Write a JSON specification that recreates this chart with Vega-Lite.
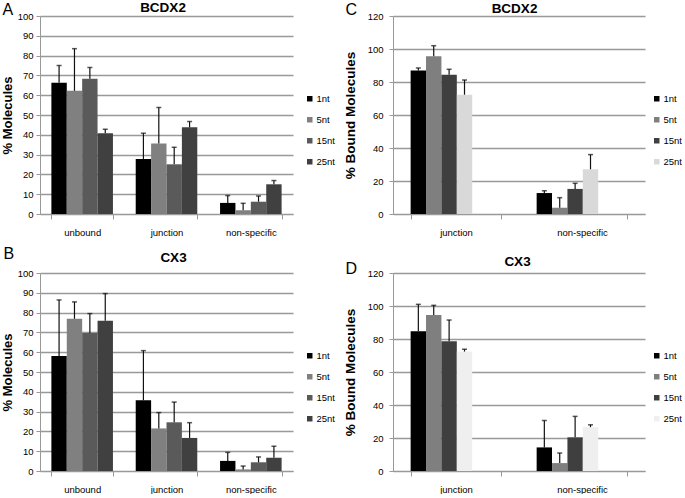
{
  "$schema": "https://vega.github.io/schema/vega-lite/v6.json",
  "padding": {"left": 1, "top": 0, "right": 0, "bottom": 0},
  "background": "white",
  "config": {
    "view": {"stroke": null},
    "font": "Liberation Sans",
    "axis": {
      "labelFont": "Liberation Sans",
      "labelColor": "#000",
      "domainColor": "#999",
      "tickColor": "#999",
      "titleColor": "#000"
    },
    "axisY": {
      "grid": true,
      "gridColor": "#999999",
      "gridWidth": 1.3,
      "tickSize": 4,
      "labelFontSize": 9.5,
      "titleFontWeight": "bold",
      "titleFont": "Liberation Sans"
    },
    "axisX": {
      "tickBand": "extent",
      "tickSize": 5,
      "labelPadding": 8,
      "labelAngle": 0,
      "grid": false,
      "labelFontSize": 9.5
    },
    "legend": {
      "labelFont": "Liberation Sans",
      "labelColor": "#000",
      "labelFontSize": 9.5,
      "symbolType": "square",
      "symbolSize": 30,
      "symbolStrokeWidth": 0,
      "rowPadding": 10,
      "labelOffset": 2
    }
  },
  "datasets": {
    "A": [
      {"cat": "unbound", "series": "1nt", "value": 66.3, "upper": 75.0},
      {"cat": "unbound", "series": "5nt", "value": 62.2, "upper": 83.5},
      {"cat": "unbound", "series": "15nt", "value": 68.3, "upper": 74.0},
      {"cat": "unbound", "series": "25nt", "value": 40.8, "upper": 42.8},
      {"cat": "junction", "series": "1nt", "value": 27.8, "upper": 40.8},
      {"cat": "junction", "series": "5nt", "value": 35.6, "upper": 53.8},
      {"cat": "junction", "series": "15nt", "value": 25.1, "upper": 33.7},
      {"cat": "junction", "series": "25nt", "value": 43.8, "upper": 46.7},
      {"cat": "non-specific", "series": "1nt", "value": 5.6, "upper": 9.3},
      {"cat": "non-specific", "series": "5nt", "value": 1.9, "upper": 5.4},
      {"cat": "non-specific", "series": "15nt", "value": 6.2, "upper": 9.1},
      {"cat": "non-specific", "series": "25nt", "value": 15.0, "upper": 16.9}
    ],
    "B": [
      {"cat": "unbound", "series": "1nt", "value": 58.1, "upper": 86.4},
      {"cat": "unbound", "series": "5nt", "value": 76.9, "upper": 85.4},
      {"cat": "unbound", "series": "15nt", "value": 69.7, "upper": 79.5},
      {"cat": "unbound", "series": "25nt", "value": 75.9, "upper": 89.6},
      {"cat": "junction", "series": "1nt", "value": 35.7, "upper": 60.8},
      {"cat": "junction", "series": "5nt", "value": 21.5, "upper": 29.5},
      {"cat": "junction", "series": "15nt", "value": 24.6, "upper": 34.8},
      {"cat": "junction", "series": "25nt", "value": 16.7, "upper": 24.4},
      {"cat": "non-specific", "series": "1nt", "value": 5.1, "upper": 9.4},
      {"cat": "non-specific", "series": "5nt", "value": 0.8, "upper": 2.5},
      {"cat": "non-specific", "series": "15nt", "value": 4.4, "upper": 7.1},
      {"cat": "non-specific", "series": "25nt", "value": 6.7, "upper": 12.5}
    ],
    "C": [
      {"cat": "junction", "series": "1nt", "value": 86.9, "upper": 88.5},
      {"cat": "junction", "series": "5nt", "value": 95.6, "upper": 102.0},
      {"cat": "junction", "series": "15nt", "value": 84.4, "upper": 87.7},
      {"cat": "junction", "series": "25nt", "value": 72.3, "upper": 81.2},
      {"cat": "non-specific", "series": "1nt", "value": 12.7, "upper": 14.1},
      {"cat": "non-specific", "series": "5nt", "value": 3.8, "upper": 9.9},
      {"cat": "non-specific", "series": "15nt", "value": 15.2, "upper": 18.6},
      {"cat": "non-specific", "series": "25nt", "value": 27.1, "upper": 36.0}
    ],
    "D": [
      {"cat": "junction", "series": "1nt", "value": 84.7, "upper": 101.0},
      {"cat": "junction", "series": "5nt", "value": 94.6, "upper": 100.4},
      {"cat": "junction", "series": "15nt", "value": 78.6, "upper": 91.5},
      {"cat": "junction", "series": "25nt", "value": 72.4, "upper": 73.8},
      {"cat": "non-specific", "series": "1nt", "value": 14.3, "upper": 30.6},
      {"cat": "non-specific", "series": "5nt", "value": 4.8, "upper": 10.9},
      {"cat": "non-specific", "series": "15nt", "value": 20.4, "upper": 33.1},
      {"cat": "non-specific", "series": "25nt", "value": 26.6, "upper": 28.0}
    ]
  },
  "resolve": {"scale": {"color": "independent", "x": "independent", "y": "independent"}, "legend": {"color": "independent"}},
  "spacing": 8,
  "vconcat": [
    {
      "spacing": 8,
      "resolve": {"scale": {"color": "independent", "x": "independent", "y": "independent"}, "legend": {"color": "independent"}},
      "hconcat": [
        {
          "width": 253, "height": 198,
          "data": {"name": "A"},
          "resolve": {"axis": {"x": "independent", "y": "independent"}},
          "layer": [
            {
              "mark": {"type": "bar"},
              "encoding": {
                "x": {"field": "cat", "type": "nominal", "sort": ["unbound", "junction", "non-specific"], "scale": {"paddingInner": 0.27, "paddingOuter": 0.135}, "axis": {"title": null, "orient": "bottom"}},
                "xOffset": {"field": "series", "type": "nominal", "sort": ["1nt", "5nt", "15nt", "25nt"], "scale": {"paddingInner": 0, "paddingOuter": 0}},
                "y": {"field": "value", "type": "quantitative", "scale": {"domain": [0, 100]}, "axis": {"title": "% Molecules", "titleFontSize": 13, "values": [0,10,20,30,40,50,60,70,80,90,100], "labelPadding": 3, "titlePadding": 3}},
                "color": {"field": "series", "type": "nominal", "sort": ["1nt", "5nt", "15nt", "25nt"], "scale": {"domain": ["1nt", "5nt", "15nt", "25nt"], "range": ["#000000", "#808080", "#5a5a5a", "#404040"]}, "legend": {"title": null, "orient": "none", "legendX": 265, "legendY": 78}}
              }
            },
            {
              "mark": {"type": "rule", "color": "#111", "strokeWidth": 1.2},
              "encoding": {
                "x": {"field": "cat", "type": "nominal", "sort": ["unbound", "junction", "non-specific"], "axis": {"orient": "top", "title": "A", "titleAngle": 0, "titleAlign": "left", "titleBaseline": "alphabetic", "titleX": -38, "titleY": -2, "titleFontSize": 16, "titleFontWeight": "normal", "titleFont": "Liberation Sans", "domain": false, "ticks": false, "labels": false, "grid": false}},
                "xOffset": {"field": "series", "type": "nominal", "sort": ["1nt", "5nt", "15nt", "25nt"]},
                "y": {"field": "value", "type": "quantitative", "axis": null},
                "y2": {"field": "upper"}
              }
            },
            {
              "mark": {"type": "tick", "color": "#111", "thickness": 1.5, "size": 5, "orient": "horizontal"},
              "encoding": {
                "x": {"field": "cat", "type": "nominal", "sort": ["unbound", "junction", "non-specific"], "axis": {"orient": "top", "title": "BCDX2", "titleAngle": 0, "titleAlign": "center", "titleBaseline": "alphabetic", "titleX": 122.5, "titleY": -5, "titleFontSize": 13.5, "titleFontWeight": "bold", "titleFont": "Liberation Sans", "domain": false, "ticks": false, "labels": false, "grid": false}},
                "xOffset": {"field": "series", "type": "nominal", "sort": ["1nt", "5nt", "15nt", "25nt"]},
                "y": {"field": "upper", "type": "quantitative", "axis": null}
              }
            }
          ]
        },
        {
          "width": 252, "height": 198,
          "data": {"name": "C"},
          "resolve": {"axis": {"x": "independent", "y": "independent"}},
          "layer": [
            {
              "mark": {"type": "bar"},
              "encoding": {
                "x": {"field": "cat", "type": "nominal", "sort": ["junction", "non-specific"], "scale": {"paddingInner": 0.28, "paddingOuter": 0.14}, "axis": {"title": null, "orient": "bottom"}},
                "xOffset": {"field": "series", "type": "nominal", "sort": ["1nt", "5nt", "15nt", "25nt"], "scale": {"paddingInner": 0, "paddingOuter": 0}},
                "y": {"field": "value", "type": "quantitative", "scale": {"domain": [0, 120]}, "axis": {"title": "% Bound Molecules", "titleFontSize": 13.5, "values": [0,20,40,60,80,100,120], "labelPadding": 6, "titlePadding": 10}},
                "color": {"field": "series", "type": "nominal", "sort": ["1nt", "5nt", "15nt", "25nt"], "scale": {"domain": ["1nt", "5nt", "15nt", "25nt"], "range": ["#000000", "#7f7f7f", "#3f3f3f", "#d9d9d9"]}, "legend": {"title": null, "orient": "none", "legendX": 259, "legendY": 78}}
              }
            },
            {
              "mark": {"type": "rule", "color": "#111", "strokeWidth": 1.2},
              "encoding": {
                "x": {"field": "cat", "type": "nominal", "sort": ["junction", "non-specific"], "axis": {"orient": "top", "title": "C", "titleAngle": 0, "titleAlign": "left", "titleBaseline": "alphabetic", "titleX": -48, "titleY": -2, "titleFontSize": 16, "titleFontWeight": "normal", "titleFont": "Liberation Sans", "domain": false, "ticks": false, "labels": false, "grid": false}},
                "xOffset": {"field": "series", "type": "nominal", "sort": ["1nt", "5nt", "15nt", "25nt"]},
                "y": {"field": "value", "type": "quantitative", "axis": null},
                "y2": {"field": "upper"}
              }
            },
            {
              "mark": {"type": "tick", "color": "#111", "thickness": 1.5, "size": 5, "orient": "horizontal"},
              "encoding": {
                "x": {"field": "cat", "type": "nominal", "sort": ["junction", "non-specific"], "axis": {"orient": "top", "title": "BCDX2", "titleAngle": 0, "titleAlign": "center", "titleBaseline": "alphabetic", "titleX": 121, "titleY": -4, "titleFontSize": 13.5, "titleFontWeight": "bold", "titleFont": "Liberation Sans", "domain": false, "ticks": false, "labels": false, "grid": false}},
                "xOffset": {"field": "series", "type": "nominal", "sort": ["1nt", "5nt", "15nt", "25nt"]},
                "y": {"field": "upper", "type": "quantitative", "axis": null}
              }
            }
          ]
        }
      ]
    },
    {
      "spacing": 8,
      "resolve": {"scale": {"color": "independent", "x": "independent", "y": "independent"}, "legend": {"color": "independent"}},
      "hconcat": [
        {
          "width": 253, "height": 198,
          "data": {"name": "B"},
          "resolve": {"axis": {"x": "independent", "y": "independent"}},
          "layer": [
            {
              "mark": {"type": "bar"},
              "encoding": {
                "x": {"field": "cat", "type": "nominal", "sort": ["unbound", "junction", "non-specific"], "scale": {"paddingInner": 0.27, "paddingOuter": 0.135}, "axis": {"title": null, "orient": "bottom"}},
                "xOffset": {"field": "series", "type": "nominal", "sort": ["1nt", "5nt", "15nt", "25nt"], "scale": {"paddingInner": 0, "paddingOuter": 0}},
                "y": {"field": "value", "type": "quantitative", "scale": {"domain": [0, 100]}, "axis": {"title": "% Molecules", "titleFontSize": 13, "values": [0,10,20,30,40,50,60,70,80,90,100], "labelPadding": 3, "titlePadding": 3}},
                "color": {"field": "series", "type": "nominal", "sort": ["1nt", "5nt", "15nt", "25nt"], "scale": {"domain": ["1nt", "5nt", "15nt", "25nt"], "range": ["#000000", "#808080", "#5a5a5a", "#404040"]}, "legend": {"title": null, "orient": "none", "legendX": 265, "legendY": 78}}
              }
            },
            {
              "mark": {"type": "rule", "color": "#111", "strokeWidth": 1.2},
              "encoding": {
                "x": {"field": "cat", "type": "nominal", "sort": ["unbound", "junction", "non-specific"], "axis": {"orient": "top", "title": "B", "titleAngle": 0, "titleAlign": "left", "titleBaseline": "alphabetic", "titleX": -37, "titleY": -15, "titleFontSize": 16, "titleFontWeight": "normal", "titleFont": "Liberation Sans", "domain": false, "ticks": false, "labels": false, "grid": false}},
                "xOffset": {"field": "series", "type": "nominal", "sort": ["1nt", "5nt", "15nt", "25nt"]},
                "y": {"field": "value", "type": "quantitative", "axis": null},
                "y2": {"field": "upper"}
              }
            },
            {
              "mark": {"type": "tick", "color": "#111", "thickness": 1.5, "size": 5, "orient": "horizontal"},
              "encoding": {
                "x": {"field": "cat", "type": "nominal", "sort": ["unbound", "junction", "non-specific"], "axis": {"orient": "top", "title": "CX3", "titleAngle": 0, "titleAlign": "center", "titleBaseline": "alphabetic", "titleX": 133, "titleY": -12, "titleFontSize": 13.5, "titleFontWeight": "bold", "titleFont": "Liberation Sans", "domain": false, "ticks": false, "labels": false, "grid": false}},
                "xOffset": {"field": "series", "type": "nominal", "sort": ["1nt", "5nt", "15nt", "25nt"]},
                "y": {"field": "upper", "type": "quantitative", "axis": null}
              }
            }
          ]
        },
        {
          "width": 252, "height": 198,
          "data": {"name": "D"},
          "resolve": {"axis": {"x": "independent", "y": "independent"}},
          "layer": [
            {
              "mark": {"type": "bar"},
              "encoding": {
                "x": {"field": "cat", "type": "nominal", "sort": ["junction", "non-specific"], "scale": {"paddingInner": 0.28, "paddingOuter": 0.14}, "axis": {"title": null, "orient": "bottom"}},
                "xOffset": {"field": "series", "type": "nominal", "sort": ["1nt", "5nt", "15nt", "25nt"], "scale": {"paddingInner": 0, "paddingOuter": 0}},
                "y": {"field": "value", "type": "quantitative", "scale": {"domain": [0, 120]}, "axis": {"title": "% Bound Molecules", "titleFontSize": 13.5, "values": [0,20,40,60,80,100,120], "labelPadding": 6, "titlePadding": 10}},
                "color": {"field": "series", "type": "nominal", "sort": ["1nt", "5nt", "15nt", "25nt"], "scale": {"domain": ["1nt", "5nt", "15nt", "25nt"], "range": ["#000000", "#7f7f7f", "#3f3f3f", "#efefef"]}, "legend": {"title": null, "orient": "none", "legendX": 259, "legendY": 78}}
              }
            },
            {
              "mark": {"type": "rule", "color": "#111", "strokeWidth": 1.2},
              "encoding": {
                "x": {"field": "cat", "type": "nominal", "sort": ["junction", "non-specific"], "axis": {"orient": "top", "title": "D", "titleAngle": 0, "titleAlign": "left", "titleBaseline": "alphabetic", "titleX": -48, "titleY": 0, "titleFontSize": 16, "titleFontWeight": "normal", "titleFont": "Liberation Sans", "domain": false, "ticks": false, "labels": false, "grid": false}},
                "xOffset": {"field": "series", "type": "nominal", "sort": ["1nt", "5nt", "15nt", "25nt"]},
                "y": {"field": "value", "type": "quantitative", "axis": null},
                "y2": {"field": "upper"}
              }
            },
            {
              "mark": {"type": "tick", "color": "#111", "thickness": 1.5, "size": 5, "orient": "horizontal"},
              "encoding": {
                "x": {"field": "cat", "type": "nominal", "sort": ["junction", "non-specific"], "axis": {"orient": "top", "title": "CX3", "titleAngle": 0, "titleAlign": "center", "titleBaseline": "alphabetic", "titleX": 124, "titleY": -8, "titleFontSize": 13.5, "titleFontWeight": "bold", "titleFont": "Liberation Sans", "domain": false, "ticks": false, "labels": false, "grid": false}},
                "xOffset": {"field": "series", "type": "nominal", "sort": ["1nt", "5nt", "15nt", "25nt"]},
                "y": {"field": "upper", "type": "quantitative", "axis": null}
              }
            }
          ]
        }
      ]
    }
  ]
}
